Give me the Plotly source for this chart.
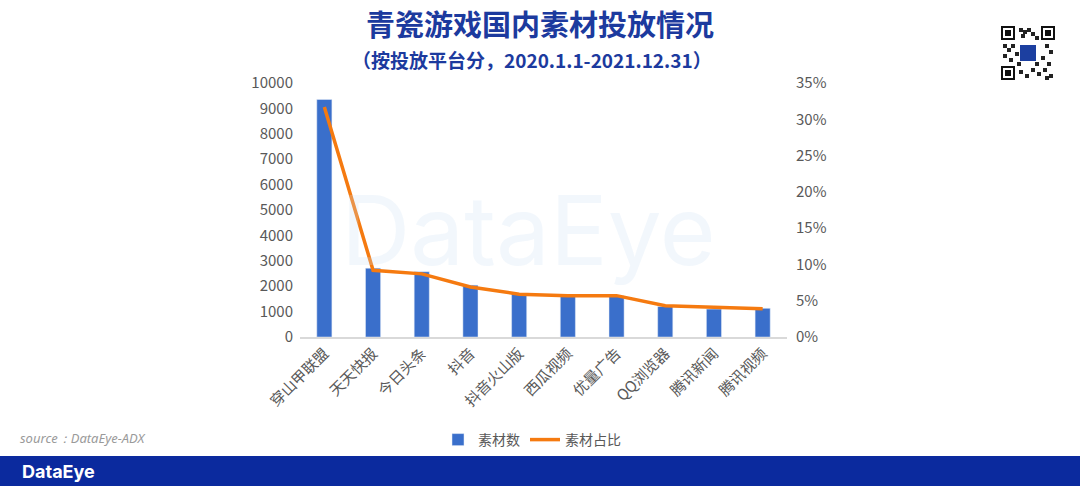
import plotly.graph_objects as go

categories = ["穿山甲联盟", "天天快报", "今日头条", "抖音", "抖音火山版", "西瓜视频", "优量广告", "QQ浏览器", "腾讯新闻", "腾讯视频"]
counts = [9350, 2710, 2570, 2040, 1690, 1610, 1620, 1200, 1100, 1130]
shares = [0.317, 0.092, 0.087, 0.069, 0.059, 0.057, 0.057, 0.043, 0.041, 0.039]
left_ticks = list(range(0, 10001, 1000))
right_ticks = [i * 0.05 for i in range(8)]

W, H = 1080, 486
L, R, T, B = 300, 787, 83, 337

def px(x):
    return (x - L) / (R - L)

def py(y):
    return (B - y) / (B - T)

FONT = "Noto Sans CJK SC"
fig = go.Figure()
fig.add_trace(go.Bar(x=categories, y=counts, name="素材数", marker_color="#3a6fcb", yaxis="y"))
fig.add_trace(go.Scatter(x=categories, y=shares, name="素材占比", mode="lines",
                         line=dict(color="#f57a10", width=3.5), yaxis="y2"))

shapes = [
    dict(type="rect", xref="paper", yref="paper", x0=px(-2), x1=px(W + 2), y0=py(456), y1=py(488),
         fillcolor="#0b2a9e", line_width=0, layer="below"),
]
# simplified QR code decoration
qx, qy, qs = 1001, 26, 54
def rect(x0, y0, x1, y1, color):
    shapes.append(dict(type="rect", xref="paper", yref="paper", x0=px(x0), x1=px(x1),
                       y0=py(y1), y1=py(y0), fillcolor=color, line_width=0))
for (fx, fy) in [(qx, qy), (qx + qs - 14, qy), (qx, qy + qs - 14)]:
    rect(fx, fy, fx + 14, fy + 14, "#111")
    rect(fx + 2, fy + 2, fx + 12, fy + 12, "white")
    rect(fx + 4, fy + 4, fx + 10, fy + 10, "#111")
pattern = [(18, 2), (22, 4), (26, 2), (30, 6), (20, 8), (34, 10), (2, 18), (6, 22), (10, 18), (2, 28),
           (8, 32), (44, 18), (48, 24), (40, 30), (46, 36), (18, 44), (24, 48), (30, 42), (36, 46),
           (42, 42), (48, 48), (44, 50), (16, 36), (34, 36), (14, 26)]
for (a, b) in pattern:
    rect(qx + a, qy + b, qx + a + 4, qy + b + 4, "#222")
rect(qx + 19, qy + 19, qx + 35, qy + 35, "#1c3fa0")

def ann(text, x, y, size, color, family=FONT, xanchor="center"):
    return dict(text=text, xref="paper", yref="paper", x=px(x), y=py(y), xanchor=xanchor,
                yanchor="middle", showarrow=False, font=dict(size=size, color=color, family=family))

fig.update_layout(
    width=W, height=H,
    margin=dict(l=L, r=W - R, t=T, b=H - B),
    paper_bgcolor="white", plot_bgcolor="white",
    font=dict(family=FONT, color="#595959", size=14),
    bargap=0.69,
    showlegend=True,
    legend=dict(orientation="h", x=px(532), xanchor="center", y=py(440), yanchor="middle",
                font=dict(size=14, color="#595959"), traceorder="normal"),
    xaxis=dict(tickangle=-45, showline=True, linecolor="#d9d9d9", linewidth=1.5,
               tickfont=dict(size=15), ticks=""),
    yaxis=dict(range=[0, 10000], tickvals=left_ticks, tickformat="d", showgrid=False, zeroline=False,
               tickfont=dict(size=15), ticks="", ticklabelstandoff=6),
    yaxis2=dict(range=[0, 0.35], tickvals=right_ticks, tickformat=".0%", overlaying="y", side="right",
                showgrid=False, zeroline=False, tickfont=dict(size=15), ticks="", ticklabelstandoff=8),
    shapes=shapes,
    annotations=[
        ann("DataEye", 528, 230, 96, "rgba(205,222,242,0.25)", family="Inter"),
        ann("<b>青瓷游戏国内素材投放情况</b>", 540, 23, 29, "#1c3a9e"),
        ann("<b>（按投放平台分，2020.1.1-2021.12.31）</b>", 532, 60, 19, "#1c3a9e"),
        ann("<i>source：DataEye-ADX</i>", 18, 438, 13, "#9a9a9a", family="Noto Sans", xanchor="left"),
        ann("<b>DataEye</b>", 20, 471, 18, "white", family="Inter", xanchor="left"),
    ],
)
fig.write_html("out.html", config={"displayModeBar": False},
               post_script="document.body.style.margin='0px';document.body.style.overflow='hidden';")
